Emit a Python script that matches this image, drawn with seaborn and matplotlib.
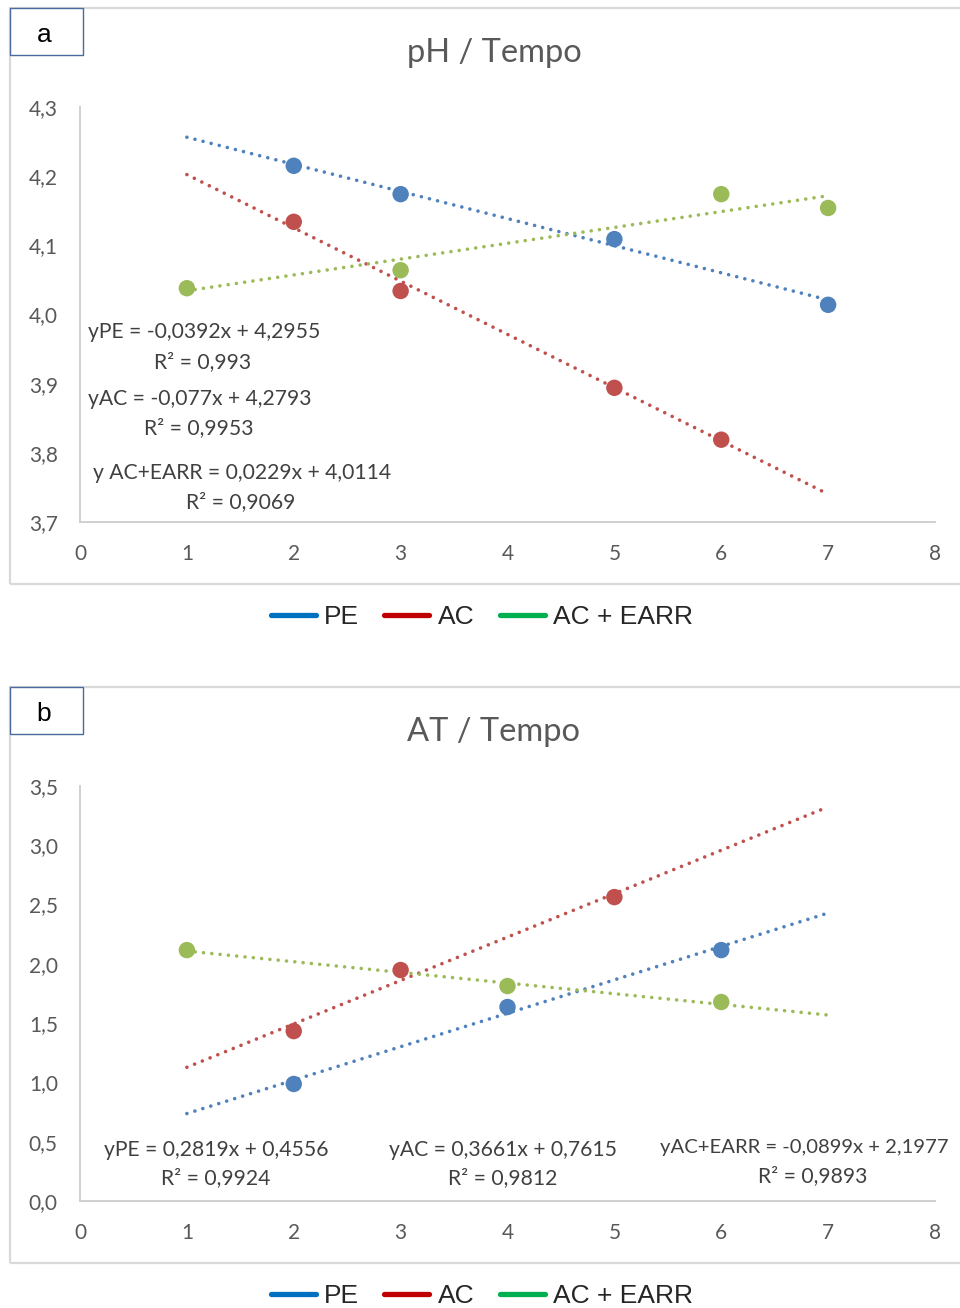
import numpy as np
import pandas as pd
import matplotlib.pyplot as plt
import seaborn as sns
from matplotlib.patches import Rectangle
from matplotlib.lines import Line2D
from matplotlib.ticker import FuncFormatter, MultipleLocator

# ── data ─────────────────────────────────────────────
series = ['PE', 'AC', 'AC + EARR']

ph_x = {'PE': [2, 3, 5, 7], 'AC': [2, 3, 5, 6], 'AC + EARR': [1, 3, 6, 7]}
ph_y = {'PE': [4.215, 4.174, 4.109, 4.014],
        'AC': [4.134, 4.034, 3.894, 3.819],
        'AC + EARR': [4.038, 4.064, 4.174, 4.154]}
ph_slope = [-0.0392, -0.077, 0.0229]
ph_icpt = [4.2955, 4.2793, 4.0114]

at_x = {'PE': [2, 4, 6], 'AC': [2, 3, 5], 'AC + EARR': [1, 4, 6]}
at_y = {'PE': [0.987, 1.636, 2.116],
        'AC': [1.433, 1.948, 2.563],
        'AC + EARR': [2.116, 1.813, 1.678]}
at_slope = [0.2819, 0.3661, -0.0899]
at_icpt = [0.4556, 0.7615, 2.1977]

fit_range = [1, 7]

ph_eq = ['yPE = -0,0392x + 4,2955', 'R² = 0,993',
         'yAC = -0,077x + 4,2793', 'R² = 0,9953',
         'y AC+EARR = 0,0229x + 4,0114', 'R² = 0,9069']
at_eq = ['yPE = 0,2819x + 0,4556', 'R² = 0,9924',
         'yAC = 0,3661x + 0,7615', 'R² = 0,9812',
         'yAC+EARR = -0,0899x + 2,1977', 'R² = 0,9893']

# ── style ────────────────────────────────────────────
POINT = {'PE': '#4F81BD', 'AC': '#C0504D', 'AC + EARR': '#9BBB59'}
LEG = {'PE': '#0070C0', 'AC': '#C00000', 'AC + EARR': '#00B050'}
TICK = '#595959'
EQ = '#404040'

sns.set_theme(style='white')
plt.rcParams['font.family'] = ['Lato', 'DejaVu Sans']

W, H = 960, 1308
fig = plt.figure(figsize=(W / 100, H / 100), dpi=100)


def fx(x):
    return x / W


def fy(y):
    return 1 - y / H


def panel(top, label, title, xs, ys, slopes, icpts, ylim, ystep, eqs, eq_pos):
    # frame + label box
    fig.patches.append(Rectangle((fx(10), fy(top + 576)), fx(960), 576 / H,
                                 transform=fig.transFigure, fill=False,
                                 edgecolor='#D9D9D9', linewidth=1.6, zorder=0))
    fig.patches.append(Rectangle((fx(10), fy(top + 47)), fx(73), 47 / H,
                                 transform=fig.transFigure, facecolor='white',
                                 edgecolor='#4A6A9E', linewidth=1.0, zorder=1))
    fig.text(fx(44), fy(top + 27), label, ha='center', va='center',
             fontsize=19, color='black', family=['Liberation Sans'])
    fig.text(fx(494), fy(top + 45), title, ha='center', va='center',
             fontsize=23.5, color=TICK)

    ax_top, ax_bot = top + 99, top + 514
    ax = fig.add_axes([fx(80), fy(ax_bot), fx(855), (ax_bot - ax_top) / H])
    df = pd.concat([pd.DataFrame({'x': xs[s], 'y': ys[s], 'serie': s}) for s in series])
    for s, m, b in zip(series, slopes, icpts):
        xf = np.array(fit_range, dtype=float)
        ax.plot(xf, m * xf + b, color=POINT[s], lw=2.6,
                linestyle=(0, (0.01, 2.3)), dash_capstyle='round', zorder=2)
    sns.scatterplot(data=df, x='x', y='y', hue='serie', palette=POINT,
                    s=140, linewidth=0, ax=ax, legend=False, zorder=3)
    ax.set_xlim(0, 8)
    ax.set_ylim(*ylim)
    ax.xaxis.set_major_locator(MultipleLocator(1))
    ax.yaxis.set_major_locator(MultipleLocator(ystep))
    ax.yaxis.set_major_formatter(FuncFormatter(lambda v, p: f'{v:.1f}'.replace('.', ',')))
    ax.set_xlabel('')
    ax.set_ylabel('')
    ax.tick_params(axis='both', length=0, labelsize=15, colors=TICK)
    ax.tick_params(axis='y', pad=16)
    ax.tick_params(axis='x', pad=16)
    for sp in ['top', 'right']:
        ax.spines[sp].set_visible(False)
    ax.spines['left'].set_color('#D0D0D0')
    ax.spines['bottom'].set_color('#D0D0D0')
    ax.spines['left'].set_linewidth(1.4)
    ax.spines['bottom'].set_linewidth(1.4)

    for txt, (x, y, ha, fs) in zip(eqs, eq_pos):
        fig.text(fx(x), fy(top + y), txt, ha=ha, va='center', fontsize=fs, color=EQ)

    handles = [Line2D([0], [0], color=LEG[s], lw=3.8) for s in series]
    fig.legend(handles, series, loc='center', bbox_to_anchor=(fx(482), fy(top + 609)),
               ncol=3, frameon=False, handlelength=1.7, handletextpad=0.33,
               columnspacing=0.95, prop={'family': 'Liberation Sans', 'size': 19})
    return ax


panel(8, 'a', 'pH / Tempo', ph_x, ph_y, ph_slope, ph_icpt, (3.7, 4.3), 0.1, ph_eq,
      [(88, 324, 'left', 15.2), (203, 354, 'center', 15.2),
       (88, 391, 'left', 15.2), (199, 420, 'center', 15.2),
       (93, 465, 'left', 15.2), (241, 494, 'center', 15.2)])

panel(687, 'b', 'AT / Tempo', at_x, at_y, at_slope, at_icpt, (0.0, 3.5), 0.5, at_eq,
      [(104, 463, 'left', 15.2), (216, 491, 'center', 15.2),
       (389, 463, 'left', 15.2), (503, 491, 'center', 15.2),
       (660, 460, 'left', 14.6), (813, 489, 'center', 15.2)])

fig.savefig('out.png', dpi=100, facecolor='white')
